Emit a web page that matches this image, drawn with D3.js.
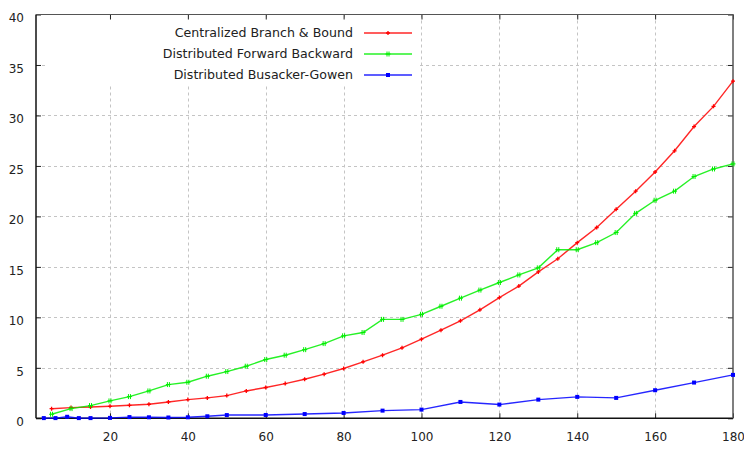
<!DOCTYPE html>
<html><head><meta charset="utf-8">
<script src="https://cdn.jsdelivr.net/npm/d3@7"></script>
<style>
html,body{margin:0;padding:0;background:#fff;}
text{font-family:"DejaVu Sans",sans-serif;font-size:12px;fill:#222;}
</style></head>
<body><svg id="c" width="744" height="449"></svg>
<script>
const seriesNames = ["Centralized Branch & Bound","Distributed Forward Backward","Distributed Busacker-Gowen"];
const seriesColors = ["#ff0000","#00ee00","#0000ff"];
const xFive = [5,10,15,20,25,30,35,40,45,50,55,60,65,70,75,80,85,90,95,100,105,110,115,120,125,130,135,140,145,150,155,160,165,170,175,180];
const redVals = [0.95,1.06,1.12,1.19,1.29,1.39,1.62,1.85,2.02,2.25,2.71,3.05,3.44,3.87,4.37,4.93,5.59,6.25,6.98,7.84,8.73,9.66,10.75,11.96,13.1,14.5,15.8,17.4,18.9,20.7,22.5,24.4,26.5,28.9,30.9,33.4];
const greenVals = [0.40,0.96,1.26,1.72,2.15,2.71,3.34,3.57,4.17,4.63,5.16,5.82,6.25,6.8,7.4,8.17,8.5,9.8,9.8,10.3,11.1,11.9,12.7,13.45,14.2,14.9,16.7,16.7,17.4,18.4,20.3,21.6,22.5,23.95,24.7,25.2];
const xBlue = [3,6,9,12,15,20,25,30,35,40,45,50,60,70,80,90,100,110,120,130,140,150,160,170,180];
const blueVals = [0.02,0.02,0.15,0.02,0.02,0.04,0.12,0.1,0.08,0.1,0.2,0.32,0.33,0.42,0.53,0.76,0.86,1.62,1.36,1.85,2.12,2.02,2.78,3.54,4.3];
const xTicks = [20,40,60,80,100,120,140,160,180];
const yTicks = [0,5,10,15,20,25,30,35,40];

const svg = d3.select("#c");
const L=36, R=733, T=14.5, B=418.3;
const x = d3.scaleLinear().domain([1,180]).range([L,R]);
const y = d3.scaleLinear().domain([0,40]).range([B,T]);

// grid
const g = svg.append("g");
g.selectAll(".vg").data(xTicks.filter(d=>d<180)).enter().append("line")
  .attr("x1",d=>Math.round(x(d))+0.5).attr("x2",d=>Math.round(x(d))+0.5).attr("y1",T).attr("y2",B)
  .attr("stroke","#c4c4c4").attr("stroke-dasharray","3,3");
g.selectAll(".hg").data(yTicks.filter(d=>d>0&&d<40)).enter().append("line")
  .attr("y1",d=>Math.round(y(d))+0.5).attr("y2",d=>Math.round(y(d))+0.5).attr("x1",L).attr("x2",R)
  .attr("stroke","#c4c4c4").attr("stroke-dasharray","3,3");

// legend background
svg.append("rect").attr("x",45).attr("y",20).attr("width",373).attr("height",64).attr("fill","#fff");

// axes via d3 axis
const xb = svg.append("g").attr("transform",`translate(0,${B})`)
  .call(d3.axisBottom(x).tickValues(xTicks).tickSize(-5).tickPadding(14));
const xt = svg.append("g").attr("transform",`translate(0,${T})`)
  .call(d3.axisTop(x).tickValues(xTicks).tickSize(-5).tickFormat(""));
const yl = svg.append("g").attr("transform",`translate(${L},0)`)
  .call(d3.axisLeft(y).tickValues(yTicks).tickSize(-5).tickPadding(12));
const yr = svg.append("g").attr("transform",`translate(${R},0)`)
  .call(d3.axisRight(y).tickValues(yTicks).tickSize(-5).tickFormat(""));
[xb,xt,yl,yr].forEach(a=>{a.selectAll(".domain").remove();a.selectAll("line").attr("stroke","#222");a.selectAll("text").attr("font-family","DejaVu Sans").attr("font-size","12.5px").attr("fill","#222");});
yl.selectAll("text").attr("dy","0.62em");
// frame
svg.append("line").attr("x1",L).attr("x2",L).attr("y1",T).attr("y2",B).attr("stroke","#111").attr("stroke-width",1.5);
svg.append("line").attr("x1",L).attr("x2",R).attr("y1",B).attr("y2",B).attr("stroke","#111").attr("stroke-width",1.5);
svg.append("line").attr("x1",L).attr("x2",R).attr("y1",T).attr("y2",T).attr("stroke","#555").attr("stroke-width",1.2);
svg.append("line").attr("x1",R).attr("x2",R).attr("y1",T).attr("y2",B).attr("stroke","#555").attr("stroke-width",1.5);

const line = d3.line().x(d=>x(d[0])).y(d=>y(d[1]));
const sets = [
  d3.zip(xFive, redVals),
  d3.zip(xFive, greenVals),
  d3.zip(xBlue, blueVals)
];
function marker(sel, i, cx, cy){
  const c = seriesColors[i];
  if(i===2){
    sel.append("rect").attr("x",cx-2).attr("y",cy-2).attr("width",4).attr("height",4).attr("fill",c);
  } else if(i===0){
    sel.append("path").attr("d",`M${cx-2},${cy}H${cx+2}M${cx},${cy-2}V${cy+2}`).attr("stroke",c).attr("stroke-width",1.3);
  } else {
    sel.append("path").attr("d",`M${cx-2.5},${cy}H${cx+2.5}M${cx-1},${cy-2.5}V${cy+2.5}M${cx+1},${cy-2.5}V${cy+2.5}`).attr("stroke",c).attr("stroke-width",1);
  }
}
sets.forEach((data,i)=>{
  svg.append("path").datum(data).attr("d",line).attr("fill","none")
    .attr("stroke",seriesColors[i]).attr("stroke-width",1.4).attr("stroke-opacity",0.85);
  const mg = svg.append("g");
  data.forEach(d=>marker(mg,i,x(d[0]),y(d[1])));
});

// legend
const ly = [33,54,75];
seriesNames.forEach((n,i)=>{
  svg.append("text").attr("x",353).attr("y",ly[i]).attr("dy","0.35em").attr("text-anchor","end").style("font-size","12.6px").text(n);
  svg.append("line").attr("x1",364).attr("x2",412).attr("y1",ly[i]).attr("y2",ly[i])
    .attr("stroke",seriesColors[i]).attr("stroke-width",1.4).attr("stroke-opacity",0.85);
  marker(svg,i,388,ly[i]);
});
</script></body></html>
